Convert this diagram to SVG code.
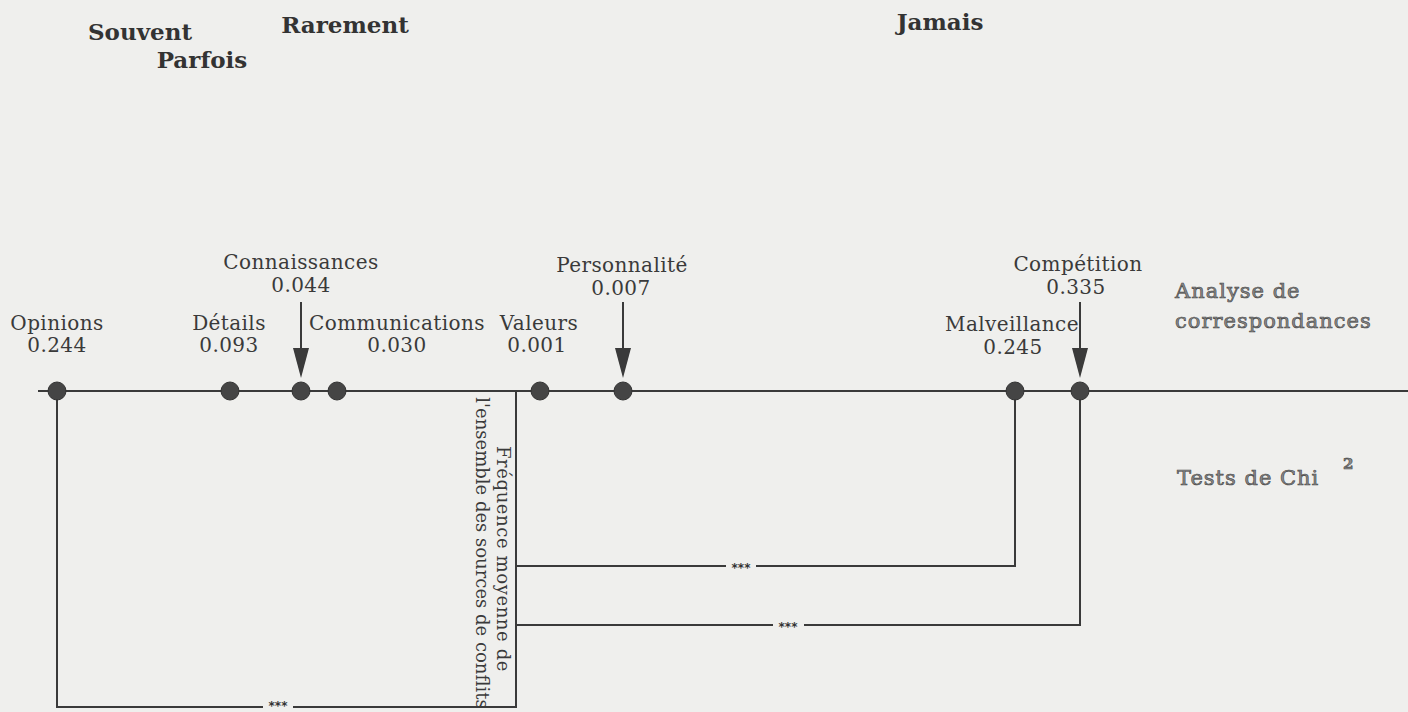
<svg xmlns="http://www.w3.org/2000/svg" width="1408" height="712" viewBox="0 0 1408 712">
<defs>
<style>
.t{font-family:"DejaVu Serif","Liberation Serif",serif;fill:#3a3a3a;font-size:20px;letter-spacing:0.4px;text-anchor:middle}
.h{font-family:"DejaVu Serif","Liberation Serif",serif;fill:#333;font-size:23px;font-weight:bold;text-anchor:middle}
.g{font-family:"DejaVu Serif","Liberation Serif",serif;fill:#8a8a8a;stroke:#444;stroke-width:0.6;font-size:21px;letter-spacing:1px}
.r{font-family:"DejaVu Serif","Liberation Serif",serif;fill:#3a3a3a;font-size:18px;text-anchor:middle}
.s{font-family:"DejaVu Sans","Liberation Sans",sans-serif;fill:#333;font-size:12px;font-weight:bold;text-anchor:middle}
.ln{stroke:#3a3a3a;stroke-width:2;fill:none}
.dot{fill:#454545;stroke:#333;stroke-width:1}
</style>
</defs>
<rect width="1408" height="712" fill="#efefed"/>

<g id="headers">
<text class="h" x="140" y="40">Souvent</text>
<text class="h" x="202" y="68">Parfois</text>
<text class="h" x="345" y="33">Rarement</text>
<text class="h" x="940" y="30">Jamais</text>
</g>

<g id="connectors">
<line class="ln" x1="38" y1="391" x2="1408" y2="391"/>
<polyline class="ln" points="57,391 57,707 263,707"/>
<polyline class="ln" points="293,707 516,707 516,391"/>
<line class="ln" x1="516" y1="566" x2="726" y2="566"/>
<polyline class="ln" points="756,566 1015,566 1015,391"/>
<line class="ln" x1="516" y1="625" x2="773" y2="625"/>
<polyline class="ln" points="804,625 1080,625 1080,391"/>
<line class="ln" x1="301" y1="302" x2="301" y2="350"/>
<path d="M293,348 L309,348 L301,378 Z" fill="#3a3a3a"/>
<line class="ln" x1="623" y1="302" x2="623" y2="350"/>
<path d="M615,348 L631,348 L623,378 Z" fill="#3a3a3a"/>
<line class="ln" x1="1080" y1="302" x2="1080" y2="350"/>
<path d="M1072,348 L1088,348 L1080,378 Z" fill="#3a3a3a"/>
<text class="s" x="278" y="710">***</text>
<text class="s" x="741" y="572">***</text>
<text class="s" x="788" y="631">***</text>
</g>

<g id="opinions">
<circle class="dot" cx="57" cy="391" r="9"/>
<text class="t" x="57" y="330">Opinions</text>
<text class="t" x="57" y="352">0.244</text>
</g>
<g id="details">
<circle class="dot" cx="230" cy="391" r="9"/>
<text class="t" x="229" y="330">Détails</text>
<text class="t" x="229" y="352">0.093</text>
</g>
<g id="connaissances">
<circle class="dot" cx="301" cy="391" r="9"/>
<text class="t" x="301" y="269">Connaissances</text>
<text class="t" x="301" y="292">0.044</text>
</g>
<g id="communications">
<circle class="dot" cx="337" cy="391" r="9"/>
<text class="t" x="397" y="330">Communications</text>
<text class="t" x="397" y="352">0.030</text>
</g>
<g id="valeurs">
<circle class="dot" cx="540" cy="391" r="9"/>
<text class="t" x="539" y="330">Valeurs</text>
<text class="t" x="537" y="352">0.001</text>
</g>
<g id="personnalite">
<circle class="dot" cx="623" cy="391" r="9"/>
<text class="t" x="622" y="272">Personnalité</text>
<text class="t" x="621" y="295">0.007</text>
</g>
<g id="malveillance">
<circle class="dot" cx="1015" cy="391" r="9"/>
<text class="t" x="1012" y="331">Malveillance</text>
<text class="t" x="1013" y="354">0.245</text>
</g>
<g id="competition">
<circle class="dot" cx="1080" cy="391" r="9"/>
<text class="t" x="1078" y="271">Compétition</text>
<text class="t" x="1076" y="294">0.335</text>
</g>

<g id="frequence">
<text class="r" style="letter-spacing:0.6px" transform="translate(497,559) rotate(90)">Fréquence moyenne de</text>
<text class="r" transform="translate(476,553) rotate(90)">l'ensemble des sources de conflits</text>
</g>

<g id="legend">
<text class="g" x="1175" y="298">Analyse de</text>
<text class="g" x="1175" y="328">correspondances</text>
<text class="g" x="1177" y="485">Tests de Chi</text>
<text class="g" x="1343" y="469" style="font-size:15px;font-weight:bold;letter-spacing:0">2</text>
</g>
</svg>
